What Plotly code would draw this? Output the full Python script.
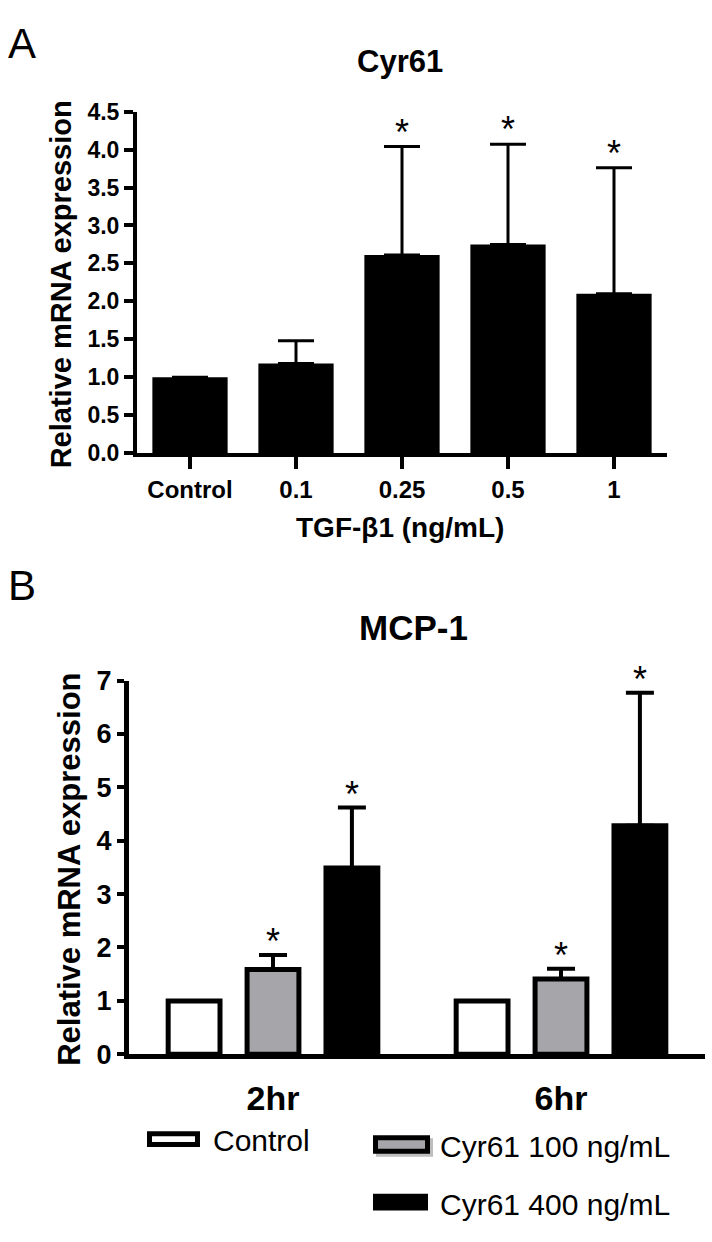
import plotly.graph_objects as go

# ---------------- data ----------------
# Panel A: Cyr61 expression vs TGF-beta1 dose
cats_a = ["Control", "0.1", "0.25", "0.5", "1"]
mean_a = [1.0, 1.18, 2.61, 2.75, 2.10]
err_a = [0.0, 0.30, 1.43, 1.32, 1.66]
sig_a = [False, False, True, True, True]

# Panel B: MCP-1 expression at two time points
times_b = ["2hr", "6hr"]
series_b = ["Control", "Cyr61 100 ng/mL", "Cyr61 400 ng/mL"]
mean_ctrl_b = [1.0, 1.0]
mean_100_b = [1.59, 1.41]
err_100_b = [0.27, 0.19]
mean_400_b = [3.49, 4.28]
err_400_b = [1.13, 2.49]
sig_100_b = [True, True]
sig_400_b = [True, True]

# ---------------- geometry helpers ----------------
W, H = 712, 1242
def px(x):
    return x / W
def py(y):
    return 1 - y / H

FONT = "Liberation Sans, Arial, sans-serif"
fig = go.Figure()

# ---------------- Panel A ----------------
fig.add_trace(go.Bar(
    x=cats_a, y=mean_a, width=0.71,
    marker=dict(color="black", line=dict(width=0)),
    error_y=dict(type="data", symmetric=False, array=err_a,
                 arrayminus=[0] * len(err_a), thickness=3, width=18,
                 color="black"),
    xaxis="x", yaxis="y", showlegend=False, hoverinfo="skip"))

# ---------------- Panel B ----------------
bw = 0.18
step = 0.274
fill_b = ["white", "#a6a5aa", "black"]
means_b = [mean_ctrl_b, mean_100_b, mean_400_b]
errs_b = [None, err_100_b, err_400_b]
for k in range(3):
    center = (k - 1) * step
    tr = dict(
        x=times_b, y=means_b[k], width=bw, offset=center - bw / 2,
        marker=dict(color=fill_b[k], line=dict(color="black", width=5)),
        name=series_b[k], xaxis="x2", yaxis="y2", showlegend=False,
        hoverinfo="skip")
    if errs_b[k] is not None:
        tr["error_y"] = dict(type="data", symmetric=False, array=errs_b[k],
                             arrayminus=[0] * len(errs_b[k]), thickness=4,
                             width=14, color="black")
    fig.add_trace(go.Bar(**tr))

annotations = []
STAR = dict(family=FONT, size=36, color="black")
# significance stars panel A
for i, c in enumerate(cats_a):
    if sig_a[i]:
        annotations.append(dict(
            x=i, y=mean_a[i] + err_a[i], xref="x", yref="y", text="*",
            showarrow=False, yanchor="bottom", yshift=-8, font=STAR))
# significance stars panel B
for k, (m, e, s) in enumerate([(mean_100_b, err_100_b, sig_100_b),
                               (mean_400_b, err_400_b, sig_400_b)], start=1):
    for i in range(len(times_b)):
        if s[i]:
            annotations.append(dict(
                x=i + k * step - step, y=m[i] + e[i], xref="x2", yref="y2",
                text="*", showarrow=False, yanchor="bottom", yshift=-9,
                font=STAR))

def txt(text, x, y, size, bold=False, angle=0, xanchor="center"):
    annotations.append(dict(
        text=text, x=px(x), y=py(y), xref="paper", yref="paper",
        showarrow=False, xanchor=xanchor, yanchor="middle", textangle=angle,
        font=dict(family=FONT, size=size, color="black",
                  weight="bold" if bold else "normal")))

txt("A", 6, 29, 42, xanchor="left")
txt("B", 6, 585, 42, xanchor="left")
txt("Cyr61", 400, 48, 31, bold=True)
txt("MCP-1", 413, 628, 35, bold=True)
txt("TGF-β1 (ng/mL)", 400, 525, 28, bold=True)
txt("Relative mRNA expression", 61, 276, 29, bold=True, angle=-90)
txt("Relative mRNA expression", 70, 876, 31, bold=True, angle=-90)

# legend (manual, matching original layout)
leg_pos = [(147, 1144, 200, 1160, 211, 1153),
           (373, 1148, 430, 1167, 438, 1160),
           (373, 1208, 428, 1225, 438, 1219)]
shapes = []
# subtle shadow behind the grey swatch
shapes.append(dict(type="rect", xref="paper", yref="paper",
                   x0=px(376), x1=px(433), y0=py(1170), y1=py(1151),
                   fillcolor="#bdbdbd", line=dict(width=0), layer="above"))
for k, (x0, y0, x1, y1, tx, ty) in enumerate(leg_pos):
    shapes.append(dict(type="rect", xref="paper", yref="paper",
                       x0=px(x0 + 2.5), x1=px(x1 - 2.5),
                       y0=py(y1 - 2.5), y1=py(y0 + 2.5),
                       fillcolor=fill_b[k], line=dict(color="black", width=5),
                       layer="above"))
    txt(series_b[k], tx, ty, 30, xanchor="left")

axis_common = dict(showgrid=False, zeroline=False, showline=True,
                   linecolor="black", mirror=False, ticks="outside",
                   tickcolor="black")

fig.update_layout(
    width=W, height=H, margin=dict(l=0, r=0, t=0, b=0),
    paper_bgcolor="white", plot_bgcolor="white", barmode="overlay",
    font=dict(family=FONT, color="black"),
    xaxis=dict(domain=[px(137), px(667)], anchor="y", range=[-0.5, 4.5],
               linewidth=4, ticklen=12, tickwidth=4,
               tickfont=dict(family=FONT, size=24, weight="bold"),
               **axis_common),
    yaxis=dict(domain=[py(449), py(99)], anchor="x", range=[0, 4.5],
               tick0=0, dtick=0.5, tickformat=".1f", linewidth=4,
               ticklen=9, tickwidth=4,
               tickfont=dict(family=FONT, size=23, weight="bold"),
               **axis_common),
    xaxis2=dict(domain=[px(129), px(705)], anchor="y2", range=[-0.5, 1.5],
                linewidth=5, ticklen=10, tickwidth=1,
                tickfont=dict(family=FONT, size=34, weight="bold"),
                **{**axis_common, "tickcolor": "rgba(0,0,0,0)"}),
    yaxis2=dict(domain=[py(1065), py(682)], anchor="x2", range=[0, 7],
                tick0=0, dtick=1, linewidth=5, ticklen=7, tickwidth=4,
                tickfont=dict(family=FONT, size=27, weight="bold"),
                **axis_common),
    annotations=annotations,
    shapes=shapes,
)

fig.write_html("out.html",
               config={"displayModeBar": False},
               post_script="document.body.style.margin='0';")
